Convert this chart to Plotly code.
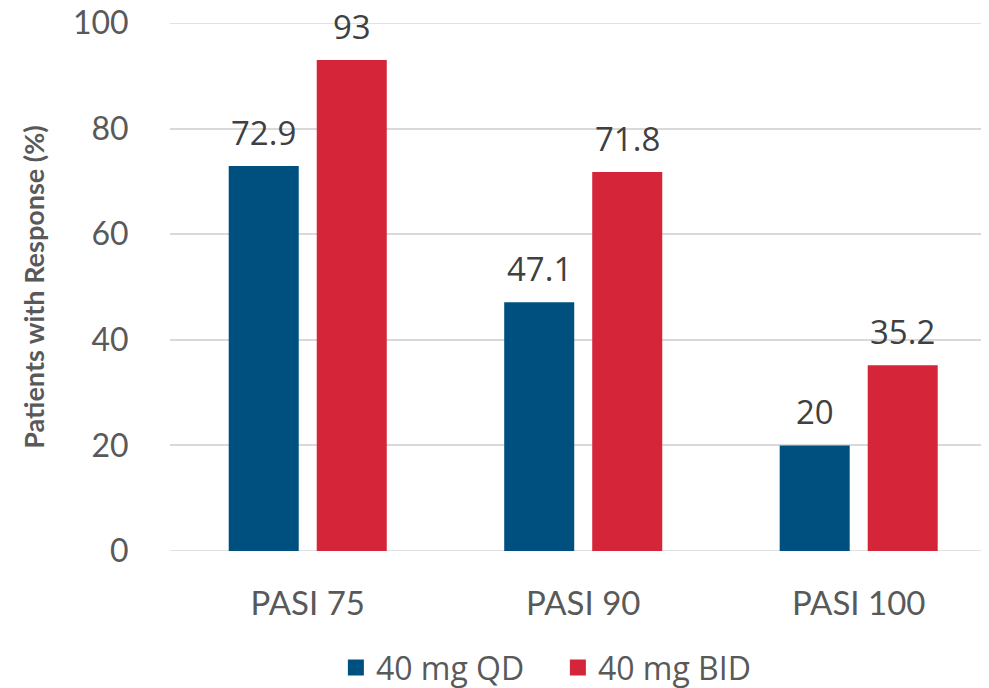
import plotly.graph_objects as go

categories = ["PASI 75", "PASI 90", "PASI 100"]
qd_values = [72.9, 47.1, 20]
bid_values = [93, 71.8, 35.2]
series_names = ["40 mg QD", "40 mg BID"]
y_ticks = [0, 20, 40, 60, 80, 100]

BLUE = "#00507F"
RED = "#D52539"
GRID = "#D9D9D9"
FONT = "Lato, Carlito, Calibri, sans-serif"
FONT2 = "Open Sans, Segoe UI, sans-serif"

fig = go.Figure()
for vals, name, col in ((qd_values, series_names[0], BLUE), (bid_values, series_names[1], RED)):
    fig.add_trace(go.Bar(x=categories, y=vals, name=name, showlegend=False,
                         marker=dict(color=col, line=dict(width=0))))
# legend entries with larger square swatches
for name, col in ((series_names[0], BLUE), (series_names[1], RED)):
    fig.add_trace(go.Scatter(x=[None], y=[None], mode="markers", name=name,
                             marker=dict(symbol="square", size=22, color=col)))

annotations = []
for vals, shift in ((qd_values, -44), (bid_values, 44)):
    for c, v in zip(categories, vals):
        annotations.append(dict(x=c, y=v, xref="x", yref="y", text=f"{v:g}",
                                showarrow=False, xshift=shift, yshift=9,
                                yanchor="bottom",
                                font=dict(family=FONT2, size=33, color="#404040")))

# gridlines at the range ends (plotly drops grid lines at the plot edges)
shapes = [dict(type="line", xref="paper", yref="y", x0=0, x1=1, y0=v, y1=v,
               layer="below", line=dict(color=GRID, width=1.5))
          for v in (y_ticks[0], y_ticks[-1])]

# the page body has an 8px margin, so the figure is laid out 8px up/left
fig.update_layout(
    width=989, height=688,
    margin=dict(l=162, r=8, t=15, b=145, autoexpand=False),
    paper_bgcolor="white", plot_bgcolor="white",
    barmode="group", bargap=0.361, bargroupgap=0.2045,
    font=dict(family=FONT, color="#595959"),
    annotations=annotations,
    shapes=shapes,
    showlegend=True,
    legend=dict(orientation="h", xref="container", yref="container",
                x=0.556, y=0.041, xanchor="center", yanchor="middle",
                font=dict(family=FONT2, size=32, color="#595959"),
                itemwidth=30, entrywidth=177, traceorder="normal"),
    xaxis=dict(range=[-0.5, 2.473], showgrid=False, zeroline=False,
               showline=False, ticks="outside", ticklen=23, tickcolor="rgba(0,0,0,0)",
               tickfont=dict(family=FONT, size=33, color="#595959")),
    yaxis=dict(range=[0, 100], tickvals=y_ticks, showgrid=True,
               gridcolor=GRID, gridwidth=1.5, zeroline=False,
               showline=False, ticks="outside", ticklen=34, tickcolor="rgba(0,0,0,0)",
               ticklabeloverflow="allow",
               tickfont=dict(family=FONT, size=32, color="#595959"),
               title=dict(text="<b>Patients with Response (%)</b>", standoff=20,
                          font=dict(family=FONT, size=27, color="#595959"))),
)

fig.write_html("out.html")
